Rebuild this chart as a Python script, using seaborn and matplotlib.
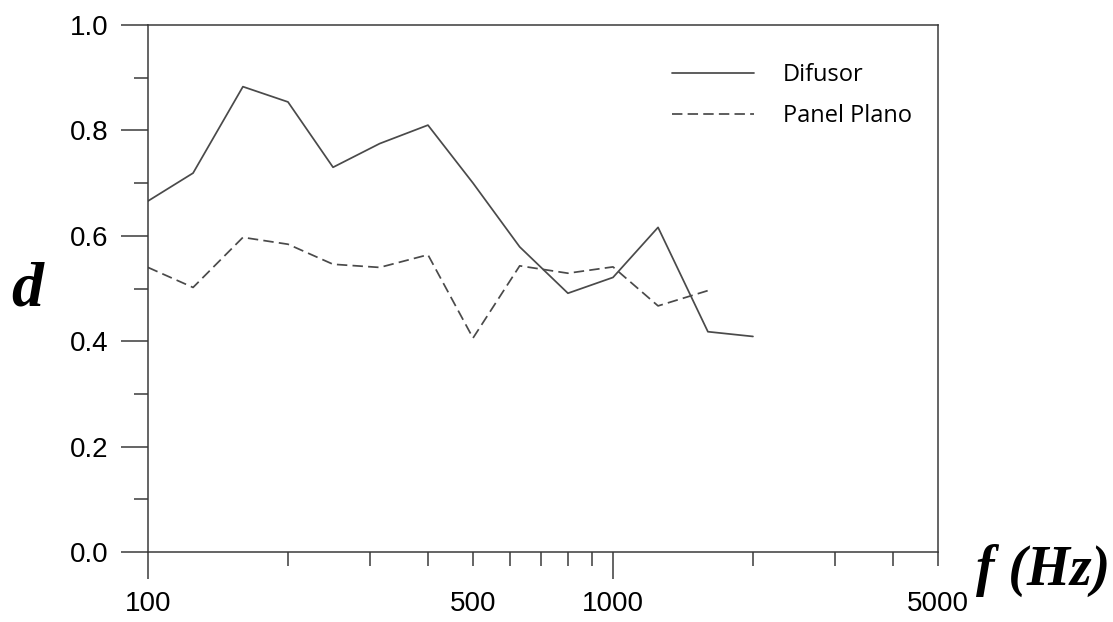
import numpy as np
import pandas as pd
import seaborn as sns
import matplotlib.pyplot as plt
from matplotlib.ticker import FixedLocator, FixedFormatter

# third-octave band centre frequencies (Hz)
freq_difusor = [100, 125, 160, 200, 250, 315, 400, 500, 630, 800, 1000, 1250, 1600, 2000]
d_difusor = [0.666, 0.719, 0.883, 0.854, 0.730, 0.775, 0.810, 0.700, 0.579, 0.491, 0.521, 0.616, 0.418, 0.409]

freq_panel = [100, 125, 160, 200, 250, 315, 400, 500, 630, 800, 1000, 1250, 1600]
d_panel = [0.540, 0.502, 0.597, 0.584, 0.546, 0.540, 0.564, 0.406, 0.543, 0.529, 0.541, 0.467, 0.496]

x_major = [100, 1000]
x_minor = [200, 300, 400, 500, 600, 700, 800, 900, 2000, 3000, 4000, 5000]
x_minor_labels = ["", "", "", "500", "", "", "", "", "", "", "", "5000"]
y_major = [0.0, 0.2, 0.4, 0.6, 0.8, 1.0]
y_minor = [0.1, 0.3, 0.5, 0.7, 0.9]

sns.set_theme(style="ticks")
plt.rcParams["font.family"] = ["Liberation Sans", "DejaVu Sans"]
plt.rcParams["text.color"] = "black"

line_color = "#4a4a4a"
spine_color = "#3a3a3a"

fig = plt.figure(figsize=(11.13, 6.22), dpi=100)
ax = fig.add_axes([148 / 1113, 1 - 552 / 622, 790 / 1113, 527 / 622])

df_dif = pd.DataFrame({"f": freq_difusor, "d": d_difusor})
df_pan = pd.DataFrame({"f": freq_panel, "d": d_panel})

sns.lineplot(data=df_dif, x="f", y="d", ax=ax, color=line_color, linewidth=1.25,
             label="Difusor")
sns.lineplot(data=df_pan, x="f", y="d", ax=ax, color=line_color, linewidth=1.25,
             linestyle=(0, (6.0, 3.0)), label="Panel Plano")

ax.set_xscale("log")
ax.set_xlim(100, 5000)
ax.set_ylim(0, 1.0)

major_len = 19.4
minor_len = 10.0
label_pad = 9.0

ax.xaxis.set_major_locator(FixedLocator(x_major))
ax.xaxis.set_major_formatter(FixedFormatter(["100", "1000"]))
ax.xaxis.set_minor_locator(FixedLocator(x_minor))
ax.xaxis.set_minor_formatter(FixedFormatter(x_minor_labels))

ax.yaxis.set_major_locator(FixedLocator(y_major))
ax.yaxis.set_major_formatter(FixedFormatter([f"{v:.1f}" for v in y_major]))
ax.yaxis.set_minor_locator(FixedLocator(y_minor))

for axis in ("x", "y"):
    ax.tick_params(axis=axis, which="major", direction="out", length=major_len,
                   width=1.1, color=spine_color, labelsize=20, pad=label_pad,
                   labelcolor="black")
    ax.tick_params(axis=axis, which="minor", direction="out", length=minor_len,
                   width=1.1, color=spine_color, labelsize=20,
                   pad=label_pad + major_len - minor_len, labelcolor="black")

for s in ax.spines.values():
    s.set_visible(True)
    s.set_color(spine_color)
    s.set_linewidth(1.1)

ax.set_xlabel("")
ax.set_ylabel("")

leg = ax.legend(loc="upper left", bbox_to_anchor=(0.663, 0.927), frameon=False,
                prop={"family": "Open Sans", "size": 17}, handlelength=3.5,
                handletextpad=1.2, labelspacing=0.7, borderpad=0, borderaxespad=0)
for t in leg.get_texts():
    t.set_color("black")

fig.text(27 / 1113, 1 - 290 / 622, "d", ha="center", va="center", color="black",
         family="Liberation Serif", weight="bold", style="italic", size=46)
fig.text(1043 / 1113, 1 - 570 / 622, "f (Hz)", ha="center", va="center", color="black",
         family="Liberation Serif", weight="bold", style="italic", size=40)

fig.savefig("out.png", dpi=100, facecolor="white")
